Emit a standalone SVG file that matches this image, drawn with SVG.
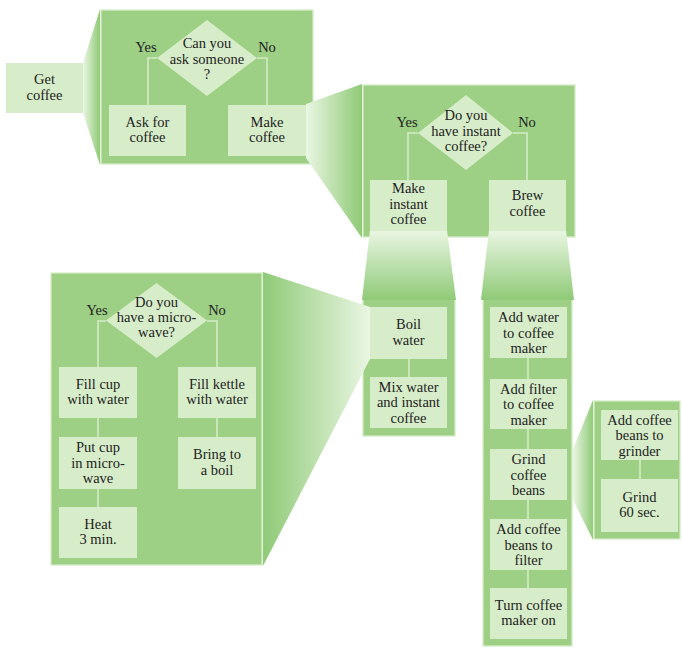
<svg xmlns="http://www.w3.org/2000/svg" width="682" height="648" viewBox="0 0 682 648">
<defs>
<linearGradient id="gR" x1="0" y1="0" x2="1" y2="0"><stop offset="0" stop-color="#eaf6e3"/><stop offset="1" stop-color="#8fca77"/></linearGradient>
<linearGradient id="gL" x1="1" y1="0" x2="0" y2="0"><stop offset="0" stop-color="#eaf6e3"/><stop offset="1" stop-color="#8fca77"/></linearGradient>
<linearGradient id="gD" x1="0" y1="0" x2="0" y2="1"><stop offset="0" stop-color="#eaf6e3"/><stop offset="1" stop-color="#8fca77"/></linearGradient>
<style>
.panel{fill:#9dcf85;stroke:#d4ebc6;stroke-width:1.3}
.box{fill:#d7edc9}
.dia{fill:#d7edc9}
.con{fill:none;stroke:#d4ebc6;stroke-width:1.6}
text{font-family:"Liberation Serif","Times New Roman",serif;font-size:14.5px;fill:#222;text-anchor:middle}
</style>
</defs>
<rect width="682" height="648" fill="#ffffff"/>
<g id="panels">
<rect class="panel" x="101" y="10" width="212" height="154"/>
<rect class="panel" x="363" y="85" width="212" height="152"/>
<rect class="panel" x="51" y="273" width="211" height="292"/>
<rect class="panel" x="363" y="299" width="92" height="137"/>
<rect class="panel" x="483" y="298" width="89" height="348"/>
<rect class="panel" x="594" y="401" width="86" height="138"/>
</g>
<g id="expansions">
<polygon points="83,63 100,9 100,165 83,113" fill="url(#gR)"/>
<polygon points="306,104 362,84 362,238 306,158" fill="url(#gR)"/>
<polygon points="370,307 263,272 263,566 370,359" fill="url(#gL)"/>
<polygon points="370,230 447,230 456,300 362,300" fill="url(#gD)"/>
<polygon points="489,230 566,230 574,300 481,300" fill="url(#gD)"/>
<polygon points="573,449 593,400 593,540 573,500" fill="url(#gR)"/>
</g>
<g id="connectors">
<polyline class="con" points="157,58 148,58 148,105"/>
<polyline class="con" points="257,58 267,58 267,105"/>
<polyline class="con" points="418,133 408,133 408,180"/>
<polyline class="con" points="513,133 527,133 527,180"/>
<polyline class="con" points="106,321 98,321 98,367"/>
<polyline class="con" points="207,321 217,321 217,367"/>
<line class="con" x1="98" y1="418" x2="98" y2="437"/>
<line class="con" x1="98" y1="489" x2="98" y2="507"/>
<line class="con" x1="217" y1="418" x2="217" y2="437"/>
<line class="con" x1="409" y1="359" x2="409" y2="377"/>
<line class="con" x1="528" y1="358" x2="528" y2="379"/>
<line class="con" x1="528" y1="429" x2="528" y2="449"/>
<line class="con" x1="528" y1="500" x2="528" y2="519"/>
<line class="con" x1="528" y1="570" x2="528" y2="588"/>
<line class="con" x1="640" y1="460" x2="640" y2="479"/>
</g>
<g id="labels">
<text x="146" y="52">Yes</text><text x="267" y="52">No</text>
<text x="407" y="127">Yes</text><text x="527" y="127">No</text>
<text x="97" y="315">Yes</text><text x="217" y="315">No</text>
</g>
<g id="get-coffee"><rect class="box" x="6" y="63" width="77" height="50"/><text x="44.5" y="84">Get</text><text x="44.5" y="99.5">coffee</text></g>
<g id="q-ask"><polygon class="dia" points="207,20 257,58 207,96 157,58"/><text x="207" y="48">Can you</text><text x="207" y="63.5">ask someone</text><text x="207" y="79">?</text></g>
<g id="ask-for-coffee"><rect class="box" x="109" y="105" width="77" height="51"/><text x="147.5" y="126.5">Ask for</text><text x="147.5" y="142">coffee</text></g>
<g id="make-coffee"><rect class="box" x="228" y="105" width="78" height="51"/><text x="267" y="126.5">Make</text><text x="267" y="142">coffee</text></g>
<g id="q-instant"><polygon class="dia" points="466,95 513,133 466,170 418,133"/><text x="466" y="120">Do you</text><text x="466" y="135.5">have instant</text><text x="466" y="151">coffee?</text></g>
<g id="make-instant"><rect class="box" x="370" y="180" width="77" height="51"/><text x="408.5" y="193">Make</text><text x="408.5" y="208.5">instant</text><text x="408.5" y="224">coffee</text></g>
<g id="brew-coffee"><rect class="box" x="489" y="180" width="77" height="51"/><text x="527.5" y="200">Brew</text><text x="527.5" y="215.5">coffee</text></g>
<g id="q-microwave"><polygon class="dia" points="156.5,283 207,320.5 156.5,358 106,320.5"/><text x="156.5" y="307">Do you</text><text x="156.5" y="322">have a micro-</text><text x="156.5" y="337">wave?</text></g>
<g id="fill-cup"><rect class="box" x="59" y="367" width="78" height="51"/><text x="98" y="388.5">Fill cup</text><text x="98" y="404">with water</text></g>
<g id="fill-kettle"><rect class="box" x="178" y="367" width="78" height="51"/><text x="217" y="388.5">Fill kettle</text><text x="217" y="404">with water</text></g>
<g id="put-cup"><rect class="box" x="59" y="437" width="78" height="52"/><text x="98" y="452">Put cup</text><text x="98" y="467.5">in micro-</text><text x="98" y="483">wave</text></g>
<g id="bring-boil"><rect class="box" x="178" y="437" width="78" height="52"/><text x="217" y="459">Bring to</text><text x="217" y="474.5">a boil</text></g>
<g id="heat"><rect class="box" x="59" y="507" width="78" height="51"/><text x="98" y="528.5">Heat</text><text x="98" y="544">3 min.</text></g>
<g id="boil-water"><rect class="box" x="370" y="307" width="77" height="52"/><text x="408.5" y="329">Boil</text><text x="408.5" y="344.5">water</text></g>
<g id="mix-water"><rect class="box" x="370" y="377" width="77" height="51"/><text x="408.5" y="391.5">Mix water</text><text x="408.5" y="407">and instant</text><text x="408.5" y="422.5">coffee</text></g>
<g id="add-water"><rect class="box" x="490" y="307" width="77" height="51"/><text x="528.5" y="322">Add water</text><text x="528.5" y="337.5">to coffee</text><text x="528.5" y="353">maker</text></g>
<g id="add-filter"><rect class="box" x="490" y="379" width="77" height="50"/><text x="528.5" y="393.5">Add filter</text><text x="528.5" y="409">to coffee</text><text x="528.5" y="424.5">maker</text></g>
<g id="grind-beans"><rect class="box" x="490" y="449" width="77" height="51"/><text x="528.5" y="464">Grind</text><text x="528.5" y="479.5">coffee</text><text x="528.5" y="495">beans</text></g>
<g id="add-beans-filter"><rect class="box" x="490" y="519" width="77" height="51"/><text x="528.5" y="534">Add coffee</text><text x="528.5" y="549.5">beans to</text><text x="528.5" y="565">filter</text></g>
<g id="turn-on"><rect class="box" x="490" y="588" width="77" height="51"/><text x="528.5" y="609.5">Turn coffee</text><text x="528.5" y="625">maker on</text></g>
<g id="add-beans-grinder"><rect class="box" x="601" y="410" width="77" height="50"/><text x="639.5" y="424.5">Add coffee</text><text x="639.5" y="440">beans to</text><text x="639.5" y="455.5">grinder</text></g>
<g id="grind-60"><rect class="box" x="601" y="479" width="77" height="53"/><text x="639.5" y="501.5">Grind</text><text x="639.5" y="517">60 sec.</text></g>
</svg>
